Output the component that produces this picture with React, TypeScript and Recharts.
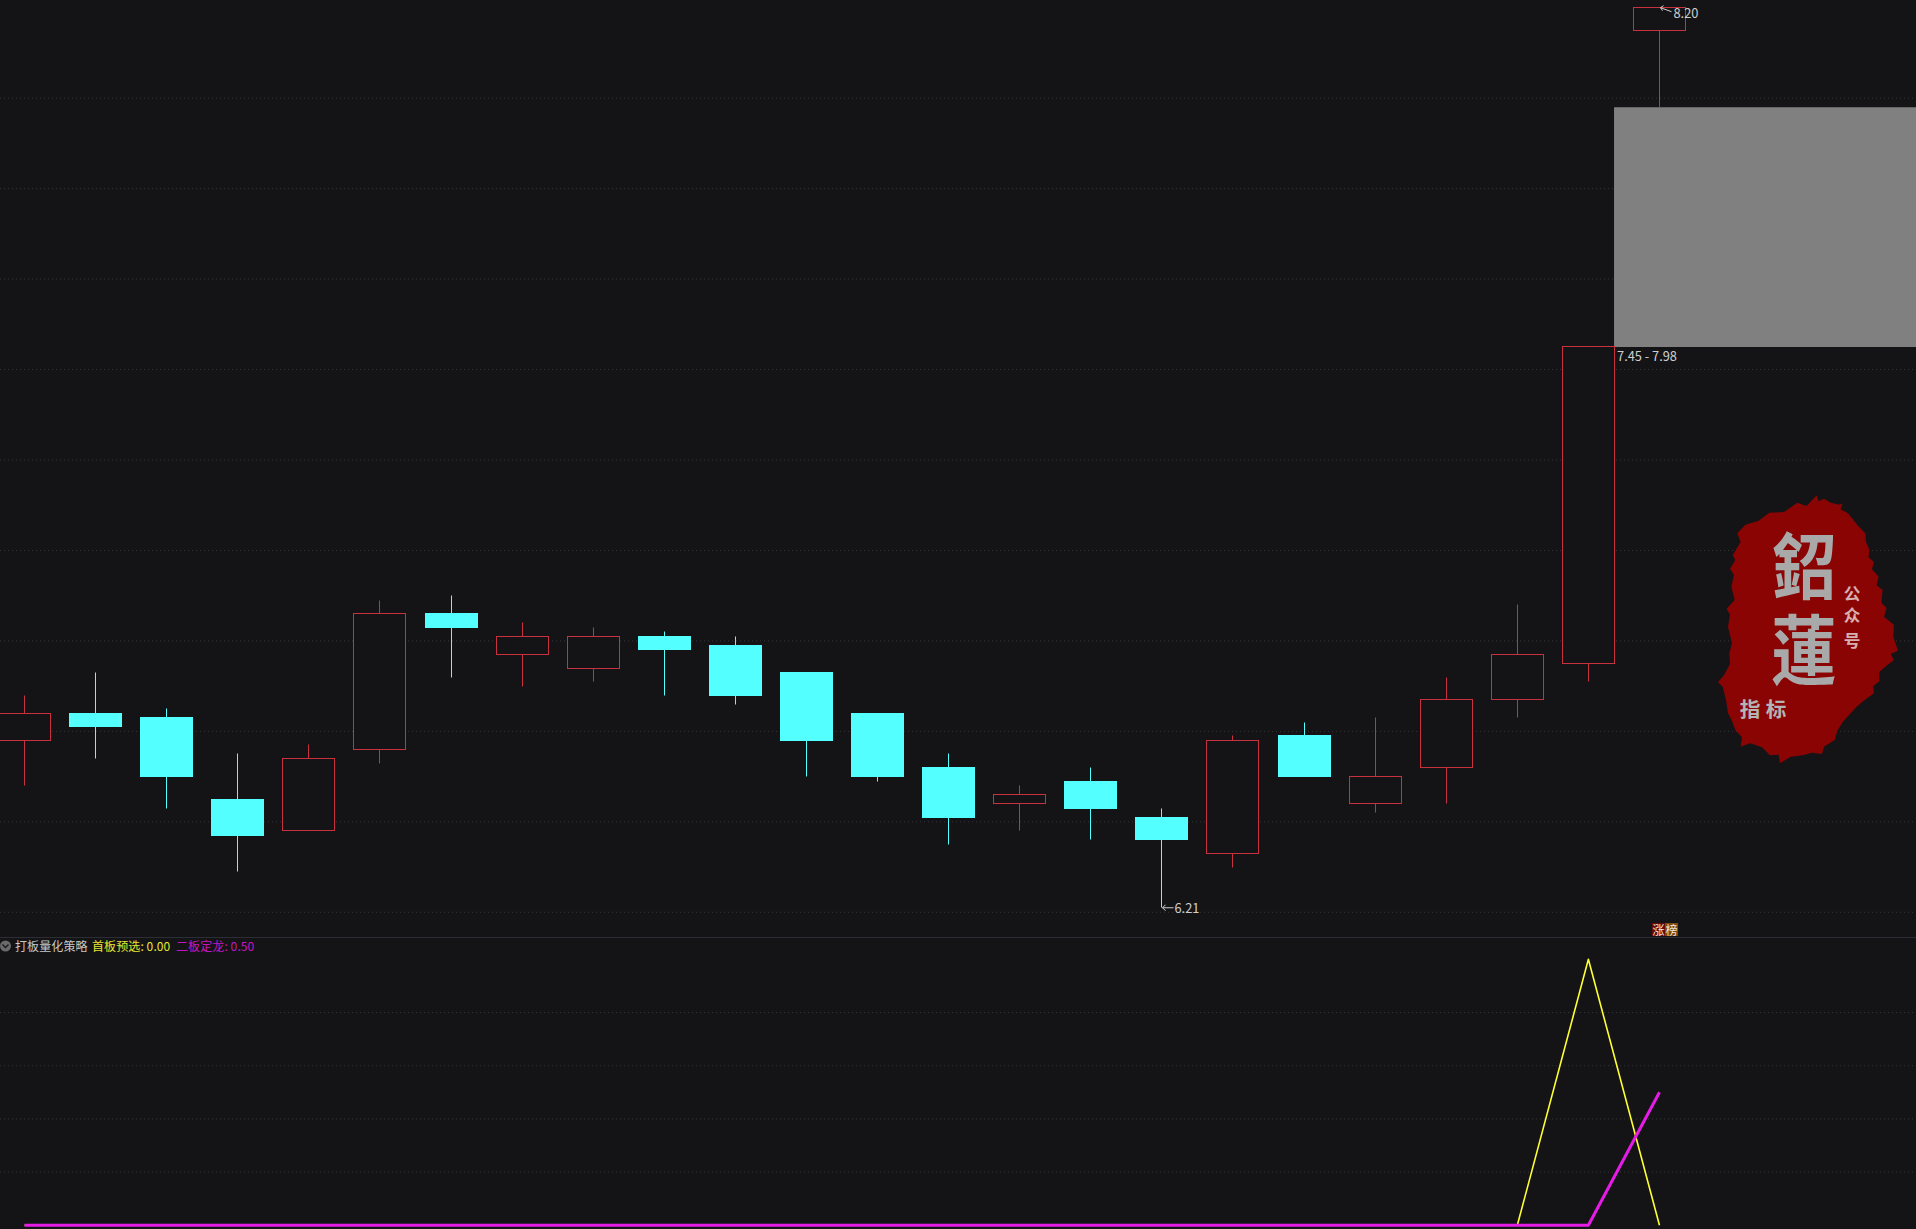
import React from 'react'
import {
  Bar,
  CartesianGrid,
  ComposedChart,
  Line,
  LineChart,
  ReferenceArea,
  ReferenceDot,
  XAxis,
  YAxis,
} from 'recharts'

const opens = [6.58, 6.64, 6.63, 6.45, 6.38, 6.56, 6.86, 6.77, 6.74, 6.81, 6.79, 6.73, 6.64, 6.52, 6.44, 6.49, 6.41, 6.33, 6.59, 6.44, 6.52, 6.67, 6.75, 8.15]
const closes = [6.64, 6.61, 6.5, 6.37, 6.54, 6.86, 6.83, 6.81, 6.81, 6.78, 6.68, 6.58, 6.5, 6.41, 6.46, 6.43, 6.36, 6.58, 6.5, 6.5, 6.67, 6.77, 7.45, 8.2]
const highs = [6.68, 6.73, 6.65, 6.55, 6.57, 6.89, 6.9, 6.84, 6.83, 6.82, 6.81, 6.73, 6.64, 6.55, 6.48, 6.52, 6.43, 6.59, 6.62, 6.63, 6.72, 6.88, 7.45, 8.2]
const lows = [6.48, 6.54, 6.43, 6.29, 6.38, 6.53, 6.72, 6.7, 6.71, 6.68, 6.66, 6.5, 6.49, 6.35, 6.38, 6.36, 6.21, 6.3, 6.5, 6.42, 6.44, 6.63, 6.71, 7.98]

const firstBoard = [0, 0, 0, 0, 0, 0, 0, 0, 0, 0, 0, 0, 0, 0, 0, 0, 0, 0, 0, 0, 0, 0, 1, 0]
const secondBoard = [0, 0, 0, 0, 0, 0, 0, 0, 0, 0, 0, 0, 0, 0, 0, 0, 0, 0, 0, 0, 0, 0, 0, 0.5]

const priceGrid = [6.2, 6.4, 6.6, 6.8, 7.0, 7.2, 7.4, 7.6, 7.8, 8.0]
const signalGrid = [0.2, 0.4, 0.6, 0.8]

const zoneLow = 7.45
const zoneHigh = 7.98
const peakPrice = 8.2
const bottomPrice = 6.21

const WIDTH = 1916
const HEIGHT = 1229
const SPLIT = 937
const BG = '#141416'
const RED = '#c8323f'
const CYAN = '#54ffff'
const GRID = '#363638'
const FONT = '"Noto Sans CJK SC", "Noto Sans", sans-serif'

const xDomain: [number, number] = [-0.3461, 26.609]

const candles = opens.map((open, i) => ({
  idx: i,
  open,
  close: closes[i],
  high: highs[i],
  low: lows[i],
  range: [lows[i], highs[i]],
}))

const signals = firstBoard.map((v, i) => ({ idx: i, first: v, second: secondBoard[i] }))

function Candle(props: any) {
  const { x, y, width, height, payload } = props
  const cx = Math.round(x + width / 2 - 0.5) + 0.5
  const perUnit = height / (payload.high - payload.low)
  const toY = (p: number) => y + (payload.high - p) * perUnit
  const up = payload.close >= payload.open
  const color = up ? RED : CYAN
  const top = Math.floor(toY(Math.max(payload.open, payload.close))) + 0.5
  const bottom = Math.floor(toY(Math.min(payload.open, payload.close))) + 0.5
  const wickTop = Math.floor(y) + 0.5
  const wickBottom = Math.floor(y + height) + 0.5
  return (
    <g>
      <line x1={cx} x2={cx} y1={wickTop} y2={wickBottom} stroke={color} strokeWidth={1} />
      {up ? (
        <rect x={cx - 26} y={top} width={52} height={bottom - top} fill={BG} stroke={color} strokeWidth={1} />
      ) : (
        <rect x={cx - 26.5} y={top - 0.5} width={53} height={bottom - top + 1} fill={color} />
      )}
    </g>
  )
}

function HighMark({ cx, cy }: any) {
  const x = Math.round(cx - 0.5) + 0.5
  return (
    <g stroke="#cfcfcf" fill="none">
      <path d={`M${x + 1} ${cy}L${x + 12} ${cy + 4}`} strokeWidth={1} />
      <path d={`M${x + 4} ${cy - 2}L${x + 1} ${cy}L${x + 3} ${cy + 3}`} strokeWidth={1} />
      <text x={x + 14} y={cy + 10} fill="#cfcfcf" stroke="none" fontFamily={FONT} fontSize={12.8}>
        {peakPrice.toFixed(2)}
      </text>
    </g>
  )
}

function LowMark({ cx, cy }: any) {
  const x = Math.round(cx - 0.5) + 0.5
  return (
    <g stroke="#cfcfcf" fill="none">
      <path d={`M${x + 1} ${cy}L${x + 12} ${cy}`} strokeWidth={1} />
      <path d={`M${x + 4} ${cy - 3}L${x + 1} ${cy}L${x + 4} ${cy + 3}`} strokeWidth={1} />
      <text x={x + 13} y={cy + 5} fill="#cfcfcf" stroke="none" fontFamily={FONT} fontSize={12.8}>
        {bottomPrice.toFixed(2)}
      </text>
    </g>
  )
}

function ZoneLabel({ viewBox }: any) {
  return (
    <text x={viewBox.x + 3} y={viewBox.y + viewBox.height + 14} fill="#cfcfcf" fontFamily={FONT} fontSize={12.8}>
      {`${zoneLow.toFixed(2)} - ${zoneHigh.toFixed(2)}`}
    </text>
  )
}

// ink outline of the watermark, in 3x crop units
const sealOutline =
  '350,46 356,64 372,56 392,68 418,74 428,70 422,88 444,100 462,122 478,142 496,160 498,186 508,208 506,232 522,246 516,268 536,290 530,316 548,330 544,368 560,384 552,410 582,434 580,470 594,512 572,522 582,540 556,560 538,576 538,604 520,618 522,640 494,660 470,680 452,700 430,724 412,752 404,780 372,800 366,822 336,818 308,826 272,830 240,850 236,824 210,826 186,802 150,790 122,800 126,772 106,750 96,722 84,700 78,660 68,620 54,606 72,586 90,552 88,520 96,490 84,440 90,404 80,386 104,360 94,320 102,284 90,266 106,240 98,226 122,186 112,160 136,134 176,122 208,98 252,96 292,68 320,78'

function Seal() {
  return (
    <svg width={WIDTH} height={HEIGHT} style={{ position: 'absolute', left: 0, top: 0, pointerEvents: 'none' }}>
      <g transform="translate(1700 480) scale(0.3333)" fontFamily={FONT} textAnchor="middle">
        <polygon points={sealOutline} fill="#8a0404" />
        <text transform="translate(312 340) scale(1 1.12)" fontSize={192} fontWeight={700} fill="#a9a9a9">鉊</text>
        <text transform="translate(312 596) scale(1 1.16)" fontSize={196} fontWeight={700} fill="#a9a9a9">蓮</text>
        <text x={456} y={360} fontSize={50} fontWeight={700} fill="#d8b0b0">公</text>
        <text x={456} y={426} fontSize={50} fontWeight={700} fill="#d8b0b0">众</text>
        <text x={456} y={502} fontSize={50} fontWeight={700} fill="#d8b0b0">号</text>
        <text x={150} y={712} fontSize={62} fontWeight={700} fill="#b4b4b4">指</text>
        <text x={228} y={712} fontSize={62} fontWeight={700} fill="#b4b4b4">标</text>
      </g>
    </svg>
  )
}

function Header() {
  const base: React.CSSProperties = { position: 'absolute', top: 937, fontFamily: FONT, fontSize: 12, lineHeight: '18px', whiteSpace: 'nowrap', letterSpacing: '0.1px' }
  return (
    <>
      <svg width={12} height={12} style={{ position: 'absolute', left: 0, top: 940 }}>
        <circle cx={5.5} cy={6} r={5.5} fill="#6a6a6a" />
        <path d="M2.5 4.5L5.5 7.5L8.5 4.5" stroke="#1a1a1a" strokeWidth={1.4} fill="none" />
      </svg>
      <span style={{ ...base, left: 15, color: '#c8c8c8' }}>打板量化策略</span>
      <span style={{ ...base, left: 92, color: '#e6e632' }}>首板预选: 0.00</span>
      <span style={{ ...base, left: 176, color: '#c414c4' }}>二板定龙: 0.50</span>
    </>
  )
}

function LimitTag() {
  const cell: React.CSSProperties = { position: 'absolute', top: 923, width: 13, height: 13, fontFamily: FONT, fontSize: 12, lineHeight: '13px', textAlign: 'center', color: '#f2e6da' }
  return (
    <>
      <div style={{ ...cell, left: 1652, background: '#650b0b' }}>涨</div>
      <div style={{ ...cell, left: 1665, background: '#7a4a10' }}>榜</div>
    </>
  )
}

export default function App() {
  return (
    <div style={{ position: 'absolute', left: 0, top: 0, width: WIDTH, height: HEIGHT, background: BG, overflow: 'hidden' }}>
      <ComposedChart width={WIDTH} height={SPLIT} data={candles} margin={{ top: 0, right: 0, bottom: 0, left: 0 }}>
        <CartesianGrid vertical={false} horizontalValues={priceGrid} stroke={GRID} strokeDasharray="1 3" />
        <XAxis dataKey="idx" type="number" domain={xDomain} hide allowDataOverflow />
        <YAxis type="number" domain={[6.1454, 8.217]} hide allowDataOverflow />
        <ReferenceArea
          x1={22.361}
          x2={xDomain[1]}
          y1={zoneLow}
          y2={zoneHigh}
          fill="#808080"
          fillOpacity={1}
          stroke="none"
          label={<ZoneLabel />}
        />
        <Bar dataKey="range" barSize={53} shape={<Candle />} isAnimationActive={false} />
        <ReferenceDot x={23} y={peakPrice} r={0} shape={<HighMark />} />
        <ReferenceDot x={16} y={bottomPrice} r={0} shape={<LowMark />} />
      </ComposedChart>
      <div style={{ position: 'absolute', left: 0, top: SPLIT, width: WIDTH, height: 1, background: '#2b2e34' }} />
      <div style={{ position: 'absolute', left: 0, top: SPLIT }}>
        <LineChart width={WIDTH} height={HEIGHT - SPLIT} data={signals} margin={{ top: 0, right: 0, bottom: 0, left: 0 }}>
          <CartesianGrid vertical={false} horizontalValues={signalGrid} stroke={GRID} strokeDasharray="1 3" />
          <XAxis dataKey="idx" type="number" domain={xDomain} hide allowDataOverflow />
          <YAxis type="number" domain={[-0.0139, 1.0838]} hide allowDataOverflow />
          <Line dataKey="first" stroke="#ffff33" strokeWidth={1.6} strokeLinejoin="round" dot={false} isAnimationActive={false} />
          <Line dataKey="second" stroke="#e61ce6" strokeWidth={3} strokeLinejoin="round" dot={false} isAnimationActive={false} />
        </LineChart>
      </div>
      <Seal />
      <Header />
      <LimitTag />
    </div>
  )
}
